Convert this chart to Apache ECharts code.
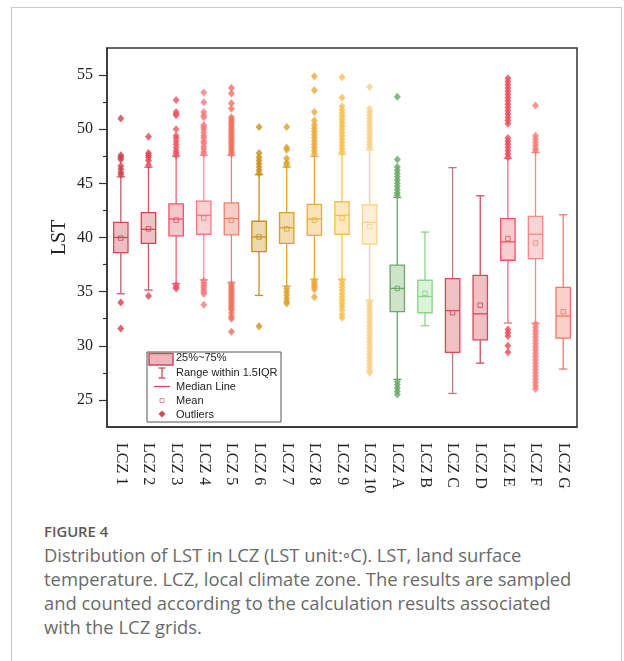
<!DOCTYPE html>
<html>
<head>
<meta charset="utf-8">
<script src="https://cdn.jsdelivr.net/npm/echarts@6/dist/echarts.min.js"></script>
<style>
  html, body { margin: 0; padding: 0; background: #fff; width: 624px; height: 661px; overflow: hidden; }
  #card { position: absolute; left: 11px; top: 7px; width: 611px; height: 720px; border: 1px solid #c9c9c9; box-sizing: border-box; }
  #chart { position: absolute; left: 0; top: 0; width: 624px; height: 500px; }
  #cap { position: absolute; left: 44px; top: 519px; width: 578px; font-family: "Open Sans", Lato, sans-serif; color: #666; }
  #cap .fig { font-size: 14.8px; font-weight: 600; color: #595959; line-height: 24px; }
  #cap .txt { font-size: 18.4px; line-height: 24px; font-weight: 400; color: #6a6a6a; white-space: nowrap; }
</style>
</head>
<body>
<div id="card"></div>
<div id="chart"></div>
<div id="cap">
  <div class="fig">FIGURE 4</div>
  <div class="txt">Distribution of LST in LCZ (LST unit:◦C). LST, land surface<br>temperature. LCZ, local climate zone. The results are sampled<br>and counted according to the calculation results associated<br>with the LCZ grids.</div>
</div>
<script>
// ---------------- data ----------------
const categories = ['LCZ 1','LCZ 2','LCZ 3','LCZ 4','LCZ 5','LCZ 6','LCZ 7','LCZ 8','LCZ 9','LCZ 10','LCZ A','LCZ B','LCZ C','LCZ D','LCZ E','LCZ F','LCZ G'];
const whiskerHigh = [45.6, 46.5, 47.5, 47.6, 47.6, 45.8, 46.5, 47.5, 47.7, 48.1, 43.7, 40.5, 46.45, 43.85, 47.3, 47.85, 42.1];
const q3Values    = [41.4, 42.3, 43.1, 43.35, 43.2, 41.5, 42.3, 43.05, 43.3, 43.0, 37.45, 36.05, 36.2, 36.5, 41.75, 41.95, 35.4];
const medianVals  = [40.0, 40.75, 41.7, 42.05, 41.75, 40.05, 40.9, 41.7, 42.05, 41.4, 35.3, 34.55, 33.25, 32.95, 39.6, 40.3, 32.75];
const q1Values    = [38.6, 39.45, 40.15, 40.3, 40.25, 38.7, 39.45, 40.2, 40.3, 39.4, 33.15, 33.05, 29.4, 30.55, 37.9, 38.05, 30.7];
const whiskerLow  = [34.8, 35.15, 35.75, 36.1, 35.85, 34.65, 35.5, 36.15, 36.15, 34.2, 26.9, 31.85, 25.6, 28.4, 32.1, 32.1, 27.85];
const meanVals    = [39.95, 40.8, 41.6, 41.8, 41.6, 40.05, 40.8, 41.6, 41.8, 41.0, 35.3, 34.85, 33.05, 33.75, 39.9, 39.5, 33.15];

const outliers = [
  [51.0, 47.6, 47.4, 47.2, 46.6, 46.3, 46.0, 45.8, 34.0, 31.6],
  [49.3, 47.8, 47.6, 47.4, 47.1, 46.7, 34.6],
  [52.7, 51.6, 51.4, 51.3, 50.0, 49.4, 49.2, 48.9, 48.6, 48.3, 48.0, 47.8, 47.6, 35.6, 35.4, 35.3],
  [53.4, 52.5, 51.6, 51.3, 51.1, 50.4, 50.2, 50.0, 49.7, 49.4, 49.2, 48.9, 48.7, 48.4, 48.2, 47.9, 47.7, 36.0, 35.8, 35.6, 35.4, 35.2, 35.0, 34.8, 33.8],
  [53.8, 53.3, 52.4, 51.9, 51.1, 50.9, 50.7, 50.5, 50.3, 50.1, 49.9, 49.7, 49.5, 49.3, 49.1, 48.9, 48.7, 48.5, 48.3, 48.1, 47.9, 47.7, 35.7, 35.5, 35.3, 35.1, 34.9, 34.7, 34.5, 34.3, 34.1, 33.9, 33.7, 33.5, 33.3, 33.0, 32.7, 32.5, 31.3],
  [50.2, 47.8, 47.4, 47.1, 46.8, 46.5, 46.2, 45.9, 31.8],
  [50.2, 48.3, 48.1, 47.3, 46.9, 46.7, 35.3, 35.0, 34.7, 34.4, 34.1, 33.9],
  [54.9, 53.6, 51.6, 50.8, 50.4, 50.1, 49.8, 49.5, 49.2, 48.9, 48.6, 48.3, 48.0, 47.7, 36.0, 35.8, 35.6, 35.4, 35.2, 34.5],
  [54.8, 52.9, 52.1, 51.8, 51.5, 51.2, 50.9, 50.6, 50.3, 50.0, 49.7, 49.4, 49.1, 48.8, 48.5, 48.2, 47.9, 36.0, 35.7, 35.4, 35.1, 34.8, 34.5, 34.2, 33.9, 33.6, 33.3, 32.9, 32.6],
  [53.9, 51.9, 51.6, 51.3, 51.0, 50.7, 50.4, 50.1, 49.8, 49.5, 49.2, 48.9, 48.6, 48.3, 34.0, 33.7, 33.4, 33.1, 32.8, 32.5, 32.2, 31.9, 31.6, 31.3, 31.0, 30.7, 30.4, 30.1, 29.8, 29.5, 29.2, 28.9, 28.6, 28.3, 28.0, 27.7, 27.5],
  [53.0, 47.2, 46.5, 46.2, 45.9, 45.6, 45.3, 45.0, 44.7, 44.4, 44.1, 43.9, 26.7, 26.4, 26.1, 25.8, 25.5],
  [],
  [],
  [],
  [54.7, 54.4, 54.1, 53.8, 53.5, 53.2, 52.9, 52.6, 52.3, 52.0, 51.7, 51.4, 51.1, 50.8, 50.5, 49.2, 48.9, 48.6, 48.3, 48.0, 47.7, 47.4, 31.5, 31.2, 30.9, 30.0, 29.4],
  [52.2, 49.4, 49.1, 48.8, 48.5, 48.2, 48.0, 32.0, 31.7, 31.4, 31.1, 30.8, 30.5, 30.2, 29.9, 29.6, 29.3, 29.0, 28.7, 28.4, 28.1, 27.8, 27.5, 27.2, 26.9, 26.6, 26.3, 26.0],
  []
];

const yTicks = [25, 30, 35, 40, 45, 50, 55];
const yMinorTicks = [27.5, 32.5, 37.5, 42.5, 47.5, 52.5];
const legendLabels = ['25%~75%', 'Range within 1.5IQR', 'Median Line', 'Mean', 'Outliers'];

// ---------------- styles ----------------
const borderColors  = ['#d04a58','#e0404c','#f05466','#f47880','#f0806c','#c8901e','#dca02c','#ecac3c','#f8c04c','#f8d48c','#6aa868','#8cd488','#d84a58','#d84858','#ee5262','#f88888','#f07868'];
const fillColors    = ['#ecbfc3','#f0c2c6','#f6c8cc','#fad2d4','#f8ccc4','#eed8b0','#f4dcb0','#f8e2b8','#fde8c0','#fef0d8','#cde4c9','#dbf3d7','#f0c0c4','#f0c0c4','#f8cdd0','#fcd4d4','#fad0c8'];
const whiskerColors = ['#c0606a','#cc5a64','#f06070','#f7909a','#c89090','#c8901e','#dca02c','#ecac3c','#f8c04c','#f8d48c','#6aaa66','#8cd488','#c07880','#c85060','#f07080','#f88888','#e08070'];
const outlierColors = ['#d0404c','#e04450','#f05464','#f57a80','#f0725e','#c8901e','#dca02c','#eca83a','#f8c048','#f8d08a','#66a864','#8cd488','#d84a58','#d84858','#ec4a5a','#f87a78','#f07868'];

const boxData = categories.map((c, i) => [i, whiskerLow[i], q1Values[i], medianVals[i], q3Values[i], whiskerHigh[i], meanVals[i]]);
const outlierData = [];
outliers.forEach((arr, i) => arr.forEach(v => outlierData.push([i, v])));

function renderBox(params, api) {
  const i = api.value(0);
  const pLow = api.coord([i, api.value(1)]);
  const pQ1 = api.coord([i, api.value(2)]);
  const pMed = api.coord([i, api.value(3)]);
  const pQ3 = api.coord([i, api.value(4)]);
  const pHigh = api.coord([i, api.value(5)]);
  const pMean = api.coord([i, api.value(6)]);
  const band = api.size([1, 0])[0];
  const bw = band * 0.52;
  const cw = bw * 0.58;
  const x = pMed[0];
  const wc = whiskerColors[i], bc = borderColors[i];
  const lw = 1.3;
  const ms = 4.5;
  return {
    type: 'group',
    children: [
      { type: 'line', shape: { x1: x, y1: pHigh[1], x2: x, y2: pQ3[1] }, style: { stroke: wc, lineWidth: lw } },
      { type: 'line', shape: { x1: x, y1: pQ1[1], x2: x, y2: pLow[1] }, style: { stroke: wc, lineWidth: lw } },
      { type: 'line', shape: { x1: x - cw / 2, y1: pHigh[1], x2: x + cw / 2, y2: pHigh[1] }, style: { stroke: wc, lineWidth: lw } },
      { type: 'line', shape: { x1: x - cw / 2, y1: pLow[1], x2: x + cw / 2, y2: pLow[1] }, style: { stroke: wc, lineWidth: lw } },
      { type: 'rect', shape: { x: x - bw / 2, y: pQ3[1], width: bw, height: pQ1[1] - pQ3[1] }, style: { fill: fillColors[i], stroke: bc, lineWidth: lw } },
      { type: 'line', shape: { x1: x - bw / 2, y1: pMed[1], x2: x + bw / 2, y2: pMed[1] }, style: { stroke: bc, lineWidth: lw } },
      { type: 'rect', shape: { x: x - ms / 2, y: pMean[1] - ms / 2, width: ms, height: ms }, style: { fill: 'none', stroke: bc, lineWidth: 1, opacity: 0.85 } }
    ]
  };
}

const chart = echarts.init(document.getElementById('chart'), null, { renderer: 'canvas' });
const serif = 'Liberation Serif, Times New Roman, serif';
const sans = 'Liberation Sans, Arial, sans-serif';
const legendColor = '#d04a58';
chart.setOption({
  animation: false,
  backgroundColor: 'transparent',
  grid: { left: 107, right: 47, top: 48, bottom: 73, show: true, borderColor: '#333', borderWidth: 1.5, backgroundColor: 'transparent' },
  xAxis: {
    type: 'category',
    data: categories,
    axisLine: { lineStyle: { color: '#333', width: 1.5 } },
    axisTick: { alignWithLabel: true, length: 7, lineStyle: { color: '#333', width: 1.2 } },
    axisLabel: { rotate: -90, interval: 0, margin: 16, fontFamily: serif, fontSize: 16, color: '#222' },
    splitLine: { show: false }
  },
  yAxis: [{
    type: 'value', min: 22.5, max: 57.5,
    name: 'LST', nameLocation: 'middle', nameGap: 37, nameMoveOverlap: false,
    nameTextStyle: { fontFamily: serif, fontSize: 20, color: '#222' },
    axisLine: { show: true, lineStyle: { color: '#333', width: 1.5 } },
    axisTick: { show: true, length: 8, customValues: yTicks, lineStyle: { color: '#333', width: 1.2 } },
    axisLabel: { customValues: yTicks, margin: 14, fontFamily: serif, fontSize: 16, color: '#222' },
    splitLine: { show: false }
  }, {
    type: 'value', min: 22.5, max: 57.5, position: 'left',
    axisLine: { show: false },
    axisTick: { show: true, length: 4, customValues: yMinorTicks, lineStyle: { color: '#333', width: 1.2 } },
    axisLabel: { show: false },
    splitLine: { show: false }
  }],
  series: [{
    type: 'custom',
    renderItem: renderBox,
    data: boxData,
    encode: { x: 0, y: [1, 2, 3, 4, 5, 6] },
    z: 2
  }, {
    type: 'scatter',
    data: outlierData,
    symbol: 'diamond',
    symbolSize: [7, 8],
    itemStyle: { color: p => outlierColors[p.value[0]] },
    z: 3
  }],
  graphic: [{
    type: 'group', x: 147, y: 352, z: 10,
    children: [
      { type: 'rect', shape: { x: 0, y: 0, width: 134, height: 70 }, style: { fill: '#fff', stroke: '#555', lineWidth: 1 } },
      { type: 'rect', shape: { x: 2, y: 1.5, width: 24, height: 11.5 }, style: { fill: '#ecb8bc', stroke: legendColor, lineWidth: 1.5 } },
      { type: 'line', shape: { x1: 15, y1: 16, x2: 15, y2: 26 }, style: { stroke: legendColor, lineWidth: 1.3 } },
      { type: 'line', shape: { x1: 11.5, y1: 16, x2: 18.5, y2: 16 }, style: { stroke: legendColor, lineWidth: 1.3 } },
      { type: 'line', shape: { x1: 11.5, y1: 26, x2: 18.5, y2: 26 }, style: { stroke: legendColor, lineWidth: 1.3 } },
      { type: 'line', shape: { x1: 7, y1: 34.5, x2: 23, y2: 34.5 }, style: { stroke: legendColor, lineWidth: 1.3 } },
      { type: 'rect', shape: { x: 13, y: 46.5, width: 4, height: 4 }, style: { fill: 'none', stroke: '#e08890', lineWidth: 1 } },
      { type: 'polygon', shape: { points: [[15, 58.5], [18.5, 62], [15, 65.5], [11.5, 62]] }, style: { fill: legendColor } },
      { type: 'text', style: { x: 29, y: 6, text: legendLabels[0], font: '11px ' + sans, fill: '#222', verticalAlign: 'middle' } },
      { type: 'text', style: { x: 29, y: 21, text: legendLabels[1], font: '11px ' + sans, fill: '#222', verticalAlign: 'middle' } },
      { type: 'text', style: { x: 29, y: 35, text: legendLabels[2], font: '11px ' + sans, fill: '#222', verticalAlign: 'middle' } },
      { type: 'text', style: { x: 29, y: 49, text: legendLabels[3], font: '11px ' + sans, fill: '#222', verticalAlign: 'middle' } },
      { type: 'text', style: { x: 29, y: 62.5, text: legendLabels[4], font: '11px ' + sans, fill: '#222', verticalAlign: 'middle' } }
    ]
  }]
});
</script>
</body>
</html>
